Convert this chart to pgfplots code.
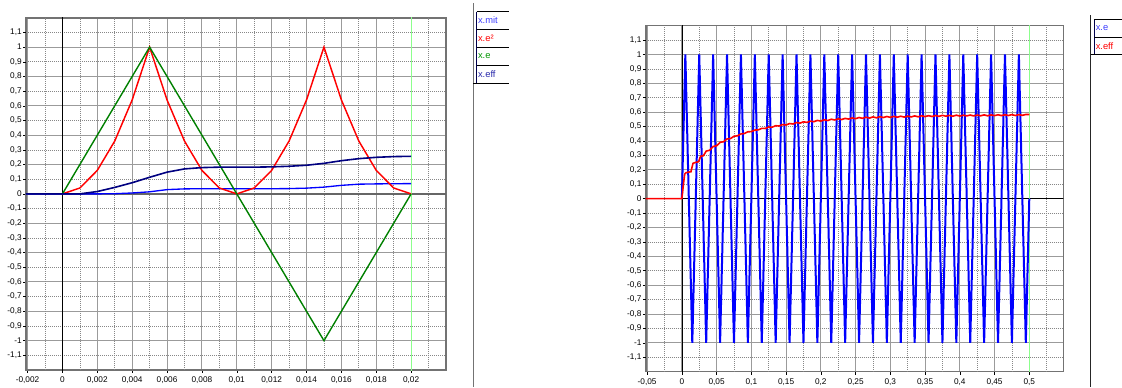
\documentclass[border=0pt]{standalone}
\usepackage{pgfplots}
\pgfplotsset{compat=1.18}
\usepackage{fontspec}
\setmainfont{Liberation Sans}
\definecolor{gridc}{RGB}{155,155,155}
\definecolor{minc}{RGB}{135,135,135}
\definecolor{framec}{RGB}{115,115,115}
\definecolor{cmit}{RGB}{0,0,255}
\definecolor{ceff}{RGB}{0,0,128}
\definecolor{cgreen}{RGB}{0,128,0}
\definecolor{cred}{RGB}{255,0,0}
\definecolor{lgreen}{RGB}{140,255,140}
\definecolor{legblue}{RGB}{60,60,255}
\definecolor{legnavy}{RGB}{40,40,170}
\definecolor{leggreen}{RGB}{0,150,0}

\pgfplotsset{myaxis/.style={
  scale only axis,
  anchor=south west,
  ymin=-1.2, ymax=1.2,
  axis line style={draw=framec, line width=1.2pt},
  grid=major,
  major grid style={draw=gridc, line width=0.75pt},
  tick style={draw=black, line width=0.4pt},
  tick align=outside,
  major tick length=2.2pt,
  xtick pos=bottom, ytick pos=left,
  scaled x ticks=false, scaled y ticks=false,
  tick label style={font=\fontsize{6.2}{7}\selectfont, inner sep=0.8pt},
  xticklabel style={yshift=-2pt},
  ytick={-1,-0.8,-0.6,-0.4,-0.2,0,0.2,0.4,0.6,0.8,1},
  yticklabels={{-1},{-0,8},{-0,6},{-0,4},{-0,2},{0},{0,2},{0,4},{0,6},{0,8},{1}},
  extra y ticks={-1.1,-0.9,-0.7,-0.5,-0.3,-0.1,0.1,0.3,0.5,0.7,0.9,1.1},
  extra y tick labels={{-1,1},{-0,9},{-0,7},{-0,5},{-0,3},{-0,1},{0,1},{0,3},{0,5},{0,7},{0,9},{1,1}},
  extra y tick style={grid=major, major grid style={draw=minc, line width=0.5pt, dash pattern=on 0.75pt off 0.75pt}},
  extra x tick labels={{},{},{},{},{},{},{},{},{},{},{},{}},
  extra x tick style={grid=major, major tick length=0pt, major grid style={draw=minc, line width=0.5pt, dash pattern=on 0.75pt off 0.75pt}},
}}

\begin{document}
\begin{tikzpicture}
\path[use as bounding box] (0,0) rectangle (841.5pt,290.25pt);

% ---------------- left panel ----------------
\begin{axis}[myaxis, at={(19.5pt,12.75pt)}, width=315pt, height=264.2pt,
  xmin=-0.00209, xmax=0.022,
  xtick={-0.002,0,0.002,0.004,0.006,0.008,0.01,0.012,0.014,0.016,0.018,0.02},
  xticklabels={{-0,002},{0},{0,002},{0,004},{0,006},{0,008},{0,01},{0,012},{0,014},{0,016},{0,018},{0,02}},
  extra x ticks={-0.001,0.001,0.003,0.005,0.007,0.009,0.011,0.013,0.015,0.017,0.019,0.021},
]
\draw[draw=black!60, line width=1.2pt] (axis cs:-0.003,0) -- (axis cs:0.023,0);
\draw[black, line width=0.5pt] (axis cs:0,-1.3) -- (axis cs:0,1.3);
\draw[lgreen, line width=0.5pt] (axis cs:0.02,-1.3) -- (axis cs:0.02,1.3);
% x.mit
\addplot[cmit, line width=1pt] coordinates {
(-0.00209,0) (0,0) (0.001,0) (0.002,0) (0.003,0.001) (0.004,0.006) (0.005,0.014) (0.006,0.029) (0.007,0.034) (0.008,0.035) (0.009,0.035) (0.010,0.035) (0.011,0.035) (0.012,0.035) (0.013,0.036) (0.014,0.039) (0.015,0.046) (0.016,0.058) (0.017,0.066) (0.018,0.068) (0.019,0.069) (0.020,0.070)};
% x.e^2
\addplot[cred, line width=1.1pt] coordinates {
(0,0) (0.001,0.04) (0.002,0.16) (0.003,0.36) (0.004,0.64) (0.005,1) (0.006,0.64) (0.007,0.36) (0.008,0.16) (0.009,0.04) (0.010,0) (0.011,0.04) (0.012,0.16) (0.013,0.36) (0.014,0.64) (0.015,1) (0.016,0.64) (0.017,0.36) (0.018,0.16) (0.019,0.04) (0.020,0)};
% x.e
\addplot[cgreen, line width=1.05pt] coordinates {(0,0) (0.005,1) (0.010,0) (0.015,-1) (0.020,0)};
% x.eff
\addplot[ceff, line width=1.2pt] coordinates {
(-0.00209,0) (0,0) (0.001,0) (0.002,0.016) (0.003,0.044) (0.004,0.076) (0.005,0.113) (0.006,0.148) (0.007,0.170) (0.008,0.179) (0.009,0.182) (0.010,0.182) (0.011,0.182) (0.012,0.184) (0.013,0.188) (0.014,0.195) (0.015,0.208) (0.016,0.226) (0.017,0.240) (0.018,0.249) (0.019,0.254) (0.020,0.256)};
\end{axis}

% ---------------- right panel ----------------
\begin{axis}[myaxis, at={(484.3pt,11.5pt)}, width=313.2pt, height=259.5pt,
  xmin=-0.052, xmax=0.549,
  xtick={-0.05,0,0.05,0.1,0.15,0.2,0.25,0.3,0.35,0.4,0.45,0.5},
  xticklabels={{-0,05},{0},{0,05},{0,1},{0,15},{0,2},{0,25},{0,3},{0,35},{0,4},{0,45},{0,5}},
  extra x ticks={-0.025,0.025,0.075,0.125,0.175,0.225,0.275,0.325,0.375,0.425,0.475,0.525},
]
\draw[black, line width=0.6pt] (axis cs:-0.06,0) -- (axis cs:0.56,0);
\draw[black, line width=0.5pt] (axis cs:0,-1.3) -- (axis cs:0,1.3);
\draw[lgreen, line width=0.5pt] (axis cs:0.5,-1.3) -- (axis cs:0.5,1.3);
% x.e
\addplot[cmit, line width=1.5pt] table {
0 0
0.005 1
0.01 0
0.015 -1
0.02 0
0.025 1
0.03 0
0.035 -1
0.04 0
0.045 1
0.05 0
0.055 -1
0.06 0
0.065 1
0.07 0
0.075 -1
0.08 0
0.085 1
0.09 0
0.095 -1
0.1 0
0.105 1
0.11 0
0.115 -1
0.12 0
0.125 1
0.13 0
0.135 -1
0.14 0
0.145 1
0.15 0
0.155 -1
0.16 0
0.165 1
0.17 0
0.175 -1
0.18 0
0.185 1
0.19 0
0.195 -1
0.2 0
0.205 1
0.21 0
0.215 -1
0.22 0
0.225 1
0.23 0
0.235 -1
0.24 0
0.245 1
0.25 0
0.255 -1
0.26 0
0.265 1
0.27 0
0.275 -1
0.28 0
0.285 1
0.29 0
0.295 -1
0.3 0
0.305 1
0.31 0
0.315 -1
0.32 0
0.325 1
0.33 0
0.335 -1
0.34 0
0.345 1
0.35 0
0.355 -1
0.36 0
0.365 1
0.37 0
0.375 -1
0.38 0
0.385 1
0.39 0
0.395 -1
0.4 0
0.405 1
0.41 0
0.415 -1
0.42 0
0.425 1
0.43 0
0.435 -1
0.44 0
0.445 1
0.45 0
0.455 -1
0.46 0
0.465 1
0.47 0
0.475 -1
0.48 0
0.485 1
0.49 0
0.495 -1
0.5 0
};
% x.eff
\addplot[cred, line width=1.2pt] table {
-0.052 0
0 0
0.002 0.09
0.004 0.17
0.006 0.18
0.010 0.185
0.013 0.186
0.016 0.245
0.020 0.252
0.024 0.256
0.027 0.294
0.031 0.298
0.035 0.330
0.040 0.336
0.045 0.362
0.050 0.367
0.055 0.391
0.060 0.395
0.065 0.414
0.070 0.417
0.075 0.433
0.080 0.436
0.085 0.449
0.090 0.452
0.095 0.464
0.100 0.465
0.105 0.476
0.110 0.477
0.115 0.488
0.120 0.487
0.125 0.497
0.130 0.496
0.135 0.506
0.140 0.504
0.145 0.514
0.150 0.511
0.155 0.521
0.160 0.518
0.165 0.528
0.170 0.524
0.175 0.533
0.180 0.529
0.185 0.538
0.190 0.534
0.195 0.543
0.200 0.538
0.205 0.547
0.210 0.542
0.215 0.551
0.220 0.546
0.225 0.554
0.230 0.549
0.235 0.557
0.240 0.552
0.245 0.560
0.250 0.555
0.255 0.563
0.260 0.557
0.265 0.565
0.270 0.559
0.275 0.567
0.280 0.561
0.285 0.569
0.290 0.563
0.295 0.570
0.300 0.564
0.305 0.571
0.310 0.565
0.315 0.572
0.320 0.566
0.325 0.573
0.330 0.567
0.335 0.574
0.340 0.568
0.345 0.575
0.350 0.569
0.355 0.576
0.360 0.570
0.365 0.577
0.370 0.571
0.375 0.578
0.380 0.572
0.385 0.578
0.390 0.572
0.395 0.579
0.400 0.573
0.405 0.579
0.410 0.574
0.415 0.580
0.420 0.574
0.425 0.580
0.430 0.575
0.435 0.581
0.440 0.575
0.445 0.581
0.450 0.576
0.455 0.582
0.460 0.576
0.465 0.582
0.470 0.577
0.475 0.583
0.480 0.577
0.485 0.583
0.490 0.578
0.495 0.584
0.500 0.584
};
\end{axis}

% ---------------- legends (image pixel coordinates) ----------------
\begin{scope}[x=0.75pt, y=-0.75pt, yshift=290.25pt]
\draw[draw=black!55, line width=1.2pt] (473.3,3) -- (473.3,387);
\draw[draw=black!70!blue, line width=0.6pt] (476.7,11.7) -- (476.7,83);
\foreach \yy in {11.7,29.3,47.3,65.3} {\draw[black, line width=0.6pt] (476.7,\yy) -- (508.5,\yy);}
\draw[black, line width=0.6pt] (473.3,83) -- (508.5,83);
\begin{scope}[every node/.style={anchor=west, inner sep=0pt, font=\fontsize{7}{8}\selectfont}]
\node[text=legblue] at (477.8,20.5) {x.mit};
\node[text=cred] at (477.8,38.3) {x.e²};
\node[text=leggreen] at (477.8,56.3) {x.e};
\node[text=legnavy] at (477.8,74.1) {x.eff};
\end{scope}
\draw[draw=black!85, line width=0.8pt] (1090.7,15) -- (1090.7,387);
\draw[draw=black!70!blue, line width=0.6pt] (1094.3,19.3) -- (1094.3,54.3);
\draw[black, line width=0.6pt] (1094.3,19.3) -- (1122,19.3);
\draw[black, line width=0.6pt] (1094.3,37.3) -- (1122,37.3);
\draw[black, line width=0.6pt] (1090.7,54.3) -- (1122,54.3);
\begin{scope}[every node/.style={anchor=west, inner sep=0pt, font=\fontsize{7}{8}\selectfont}]
\node[text=legblue] at (1095.5,28.3) {x.e};
\node[text=cred] at (1095.5,45.8) {x.eff};
\end{scope}
\end{scope}
\end{tikzpicture}
\end{document}
